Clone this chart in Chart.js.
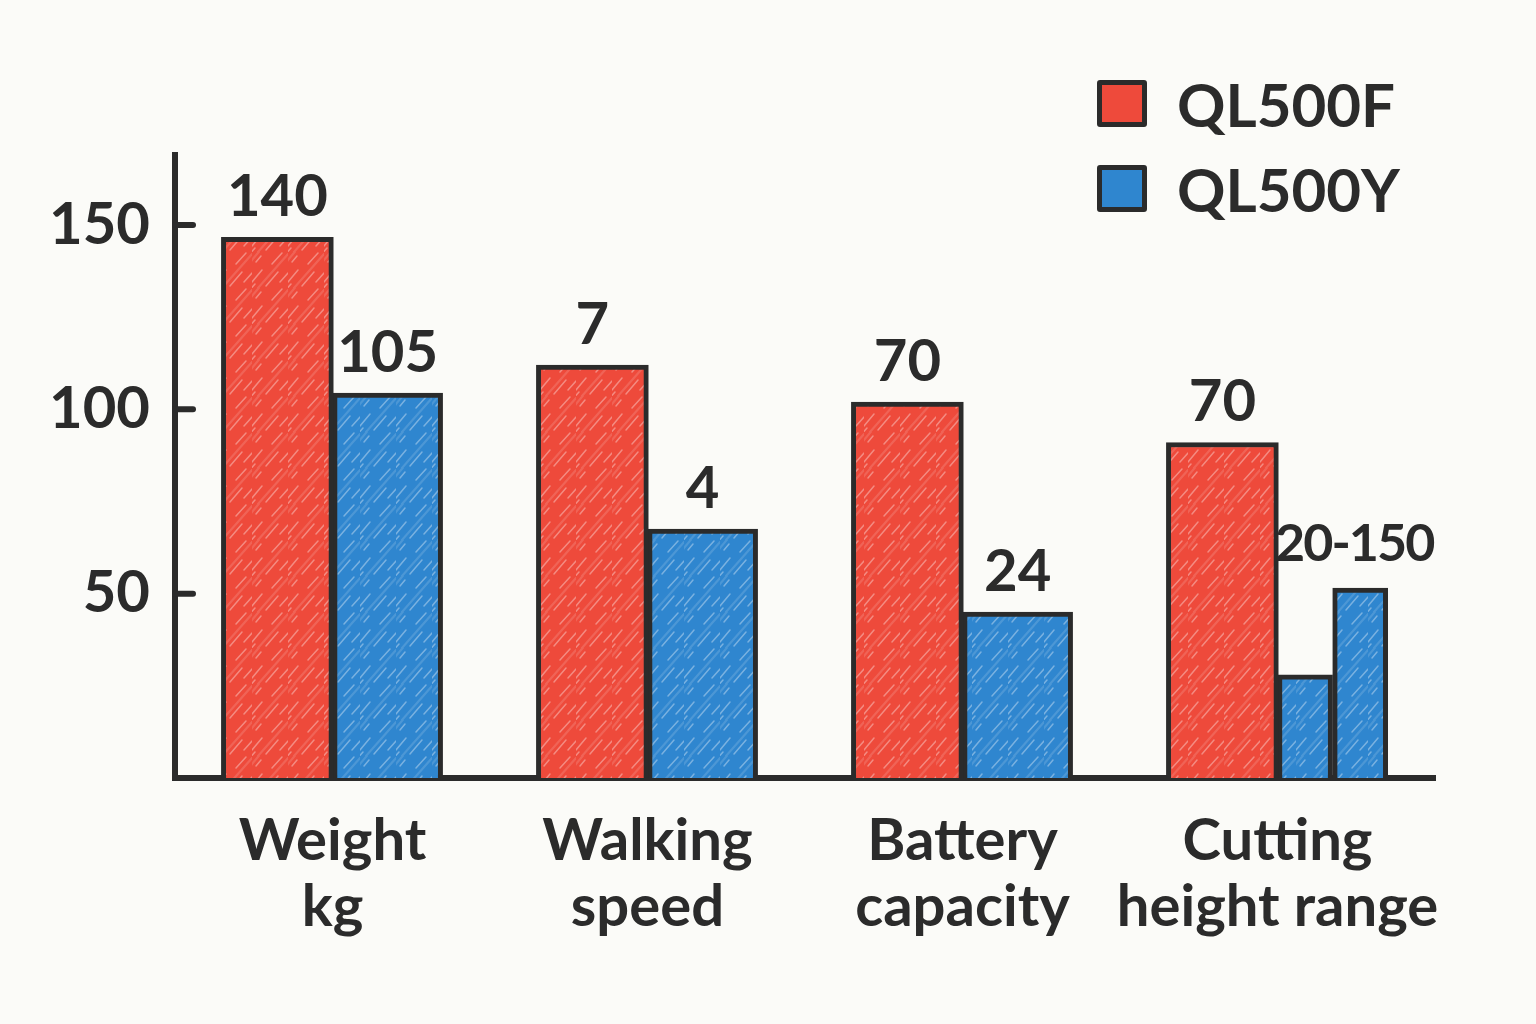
<!DOCTYPE html>
<html>
<head>
<meta charset="utf-8">
<script src="https://cdn.jsdelivr.net/npm/chart.js@4.4.1/dist/chart.umd.min.js"></script>
<style>
  html, body { margin: 0; padding: 0; background: #fbfbf8; }
  #wrap { position: relative; width: 1536px; height: 1024px; }
  #legend { position: absolute; left: 1097px; top: 80px; font-family: Lato, sans-serif; font-weight: 700; font-size: 60px; color: #2b2b2b; }
  .leg-row { display: flex; align-items: center; height: 47px; margin-bottom: 38px; }
  .leg-box { width: 40px; height: 37px; border: 5px solid #2b2b2b; border-radius: 3px; margin-right: 30px; }
</style>
</head>
<body>
<div id="wrap">
  <canvas id="chart" width="1536" height="1024"></canvas>
  <div id="legend"></div>
</div>
<script>
// categories and values (bar heights)
const categories = [['Weight', 'kg'], ['Walking', 'speed'], ['Battery', 'capacity'], ['Cutting', 'height range']];
const seriesNames = ['QL500F', 'QL500Y'];
const valuesF = [146.7, 112, 102, 91];
const valuesY = [104.4, 67.5, 45, null];
// QL500Y cutting height is drawn as two narrow bars (min / max)
const rangeCategory = 3;
const rangeValuesY = [28, 51.5];
// text printed above the bars
const labelsF = ['140', '7', '70', '70'];
const labelsY = ['105', '4', '24', null];
const rangeLabelY = '20-150';
const yTicks = [50, 100, 150];

const INK = '#2b2b2b';
const RED = '#ee4a3b';
const BLUE = '#2f86cf';
const FONT = 'Lato, sans-serif';
const groupPct = 0.7;          // share of a category used by a pair of bars
const slot = groupPct / 2;     // one bar, in category units

// pencil-ish hatch fill
function hatch(base) {
    const c = document.createElement('canvas');
    c.width = 36; c.height = 36;
    const g = c.getContext('2d');
    g.fillStyle = base;
    g.fillRect(0, 0, 36, 36);
    g.strokeStyle = 'rgba(255,255,255,0.36)';
    g.lineWidth = 1.5;
    g.lineCap = 'round';
    const segs = [[0, 30, 10, 18], [14, 34, 26, 20], [20, 12, 30, 1], [4, 10, 9, 4], [28, 30, 36, 21], [-4, 40, 3, 32]];
    segs.forEach(s => { g.beginPath(); g.moveTo(s[0], s[1]); g.lineTo(s[2], s[3]); g.stroke(); });
    g.strokeStyle = 'rgba(255,255,255,0.14)';
    g.lineWidth = 2.2;
    [[6, 36, 36, 2], [-10, 20, 10, -4]].forEach(s => { g.beginPath(); g.moveTo(s[0], s[1]); g.lineTo(s[2], s[3]); g.stroke(); });
    return g.createPattern(c, 'repeat');
}

const ctx = document.getElementById('chart').getContext('2d');
const redFill = hatch(RED);
const blueFill = hatch(BLUE);

// bars live on a hidden linear axis lined up with the category axis
const pointsF = valuesF.map((v, i) => ({ x: i - slot / 2, y: v }));
const pointsY = valuesY.map((v, i) => ({ x: i + slot / 2, y: v })).filter(p => p.y != null);
const pointsRange = rangeValuesY.map((v, i) => ({ x: rangeCategory + slot * (2 * i + 1) / 4, y: v }));

// legend (html)
const legendEl = document.getElementById('legend');
[[seriesNames[0], RED], [seriesNames[1], BLUE]].forEach(([name, col]) => {
    const row = document.createElement('div');
    row.className = 'leg-row';
    const box = document.createElement('span');
    box.className = 'leg-box';
    box.style.background = col;
    const txt = document.createElement('span');
    txt.textContent = name;
    row.appendChild(box); row.appendChild(txt);
    legendEl.appendChild(row);
});

const valueLabels = {
    id: 'valueLabels',
    afterDatasetsDraw(chart) {
        const c = chart.ctx;
        c.save();
        c.font = '700 58px ' + FONT;
        c.fillStyle = INK;
        c.textAlign = 'center';
        c.textBaseline = 'middle';
        const put = (meta, labels) => meta.data.forEach((bar, i) => {
            if (labels[i] != null) c.fillText(labels[i], bar.x, bar.y - 40);
        });
        put(chart.getDatasetMeta(0), labelsF);
        put(chart.getDatasetMeta(1), labelsY.filter(l => l != null));
        // range label is a little smaller and tighter
        const sub = chart.getDatasetMeta(2).data;
        const tall = sub[sub.length - 1];
        c.font = '700 52px ' + FONT;
        c.letterSpacing = '-2px';
        c.fillText(rangeLabelY, tall.x - 6, tall.y - 44);
        c.restore();
    }
};

// tick marks on the y axis point into the plot
const innerTicks = {
    id: 'innerTicks',
    afterDraw(chart) {
        const c = chart.ctx;
        const y = chart.scales.y;
        c.save();
        c.strokeStyle = INK;
        c.lineWidth = 6;
        c.lineCap = 'round';
        yTicks.forEach(v => {
            const py = y.getPixelForValue(v);
            c.beginPath();
            c.moveTo(chart.chartArea.left, py);
            c.lineTo(chart.chartArea.left + 18, py);
            c.stroke();
        });
        c.restore();
    }
};

const barStyle = { xAxisID: 'xb', grouped: false, borderColor: INK, borderWidth: 5 };

new Chart(ctx, {
    type: 'bar',
    data: {
        labels: categories,
        datasets: [
            { ...barStyle, label: seriesNames[0], data: pointsF, backgroundColor: redFill, barThickness: 112 },
            { ...barStyle, label: seriesNames[1], data: pointsY, backgroundColor: blueFill, barThickness: 110 },
            { ...barStyle, label: seriesNames[1] + ' range', data: pointsRange, backgroundColor: blueFill, barThickness: 55 }
        ]
    },
    options: {
        responsive: false,
        animation: false,
        layout: { padding: { left: 0, right: 101, top: 155, bottom: 0 } },
        plugins: { legend: { display: false }, tooltip: { enabled: false } },
        scales: {
            x: {
                type: 'category',
                offset: true,
                grid: { display: false, drawTicks: false },
                border: { display: true, color: INK, width: 6 },
                ticks: { color: INK, autoSkip: false, maxRotation: 0, padding: 31,
                         font: { family: FONT, size: 58, weight: '700', lineHeight: 1.13 } },
                afterFit(scale) { scale.height = 246; }
            },
            xb: {
                type: 'linear',
                display: false,
                offset: false,
                min: -0.5,
                max: categories.length - 0.5,
                ticks: { stepSize: 1 }
            },
            y: {
                min: 0,
                max: 169,
                grid: { display: false, drawTicks: false },
                border: { display: true, color: INK, width: 6 },
                afterBuildTicks(scale) { scale.ticks = yTicks.map(v => ({ value: v })); },
                ticks: { color: INK, font: { family: FONT, size: 58, weight: '700' }, padding: 25 },
                afterFit(scale) { scale.width = 175; }
            }
        }
    },
    plugins: [valueLabels, innerTicks]
});
</script>
</body>
</html>
